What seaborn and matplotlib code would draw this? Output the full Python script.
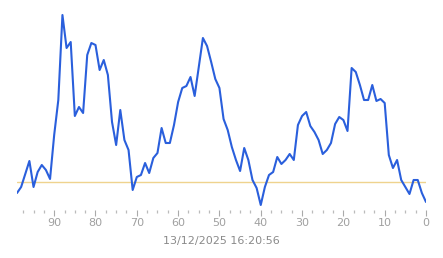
import matplotlib
matplotlib.use("Agg")
import matplotlib.pyplot as plt
import seaborn as sns
import pandas as pd
import numpy as np

# x positions (seconds ago), from 99 down to 0
ages = list(range(99, -1, -1))
values = [7, 13, 26, 39, 13, 28, 35, 30, 21, 65,
          100, 185, 152, 158, 84, 93, 87, 145, 157, 155,
          130, 140, 125, 78, 55, 90, 60, 50, 10, 23,
          25, 37, 27, 42, 47, 72, 57, 57, 75, 98,
          112, 114, 123, 104, 133, 162, 154, 138, 121, 112,
          81, 70, 53, 40, 29, 52, 40, 20, 12, -5,
          13, 25, 28, 43, 36, 40, 46, 40, 75, 84,
          88, 74, 68, 60, 46, 50, 57, 76, 83, 80,
          69, 132, 128, 115, 100, 100, 115, 99, 101, 97,
          45, 32, 40, 20, 13, 6, 20, 20, 7, -2]
threshold = 18
major_ticks = [90, 80, 70, 60, 50, 40, 30, 20, 10, 0]
timestamp = "13/12/2025 16:20:56"

df = pd.DataFrame({"age": ages, "value": values})

sns.set_style("white")
fig = plt.figure(figsize=(4.43, 2.58), dpi=100)
ax = fig.add_axes([17 / 443, 1 - 210 / 258, 409 / 443, 210 / 258])

ax.axhline(threshold, color="#efd38e", linewidth=1.0, zorder=1)
sns.lineplot(data=df, x="age", y="value", ax=ax, color="#2a5fdc",
             linewidth=1.5, zorder=2)

ax.set_xlim(99, 0)
ax.set_ylim(-10, 200)
for s in ax.spines.values():
    s.set_visible(False)
ax.set_yticks([])
ax.set_xticks(major_ticks)
ax.set_xticklabels([str(t) for t in major_ticks])
minor = [t for t in np.arange(97.5, 0, -2.5) if t not in major_ticks]
ax.set_xticks(minor, minor=True)
ax.tick_params(axis="x", which="major", direction="out", length=4.3,
               width=0.8, color="#aaaaaa", labelsize=8,
               labelcolor="#a0a0a0", pad=1.5, bottom=True)
ax.tick_params(axis="x", which="minor", direction="out", length=2.2,
               width=0.9, color="#bbbbbb", bottom=True)
ax.set_xlabel("")
ax.set_ylabel("")

fig.text(221 / 443, 1 - 241 / 258, timestamp, ha="center", va="center",
         fontsize=8, color="#8a8a8a")

fig.savefig("out.png", dpi=100)
